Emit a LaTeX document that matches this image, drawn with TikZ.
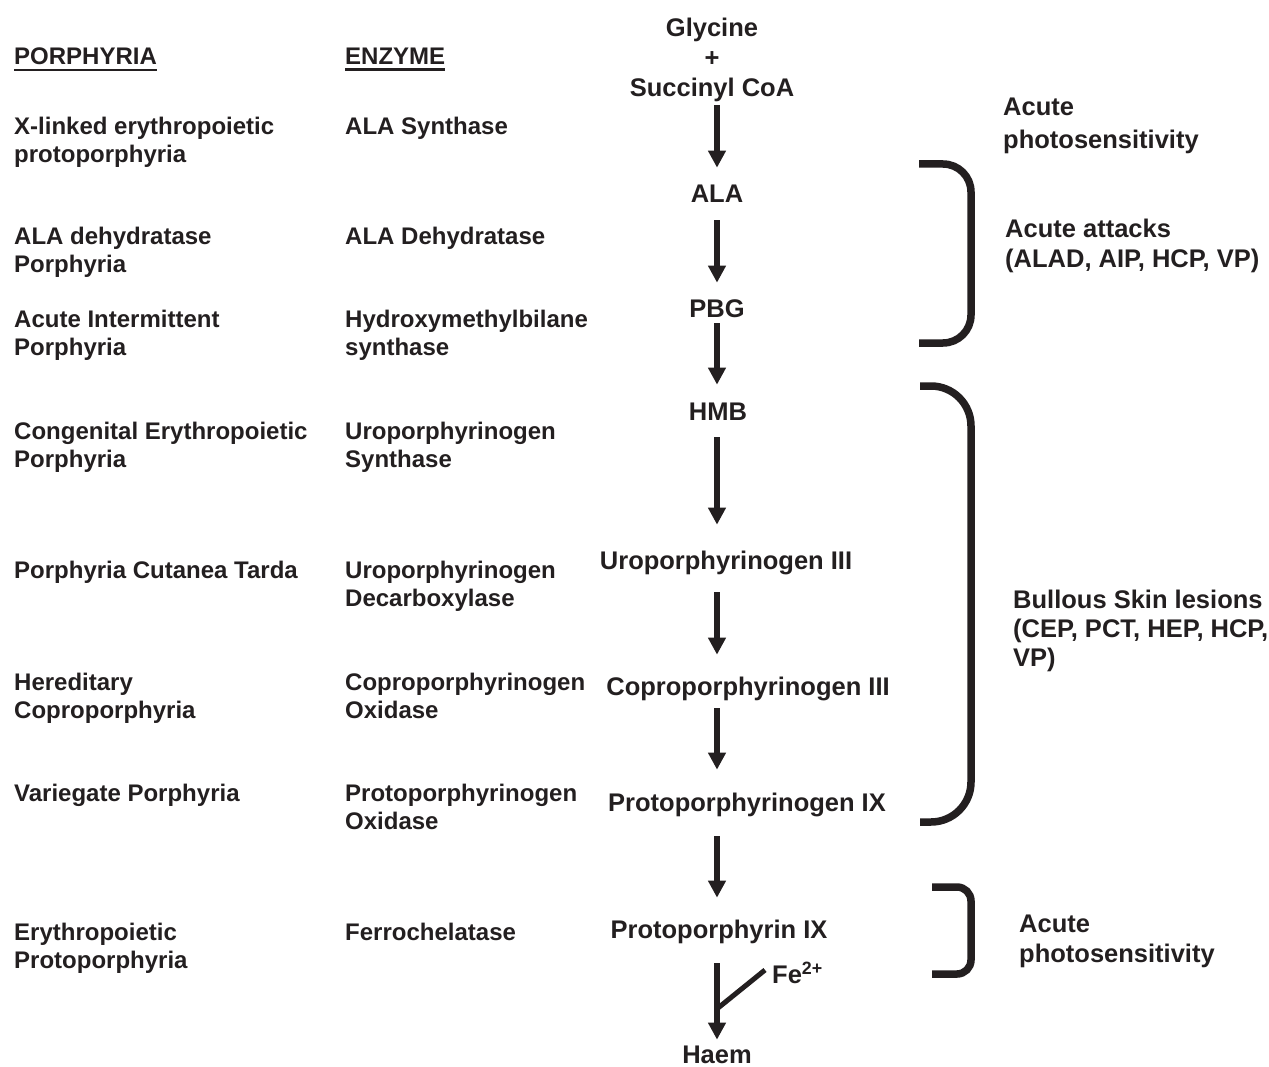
\documentclass[tikz,border=0pt]{standalone}
\usepackage{fontspec}
\setmainfont{Liberation Sans}
\usetikzlibrary{arrows.meta}
\definecolor{ink}{RGB}{35,31,32}
\newcommand\colfont{\fontsize{24}{28}\selectfont\bfseries}
\newcommand\pathfont{\fontsize{25.5}{30}\selectfont\bfseries}

\begin{document}
\begin{tikzpicture}[x=1pt,y=-1pt,
  every node/.style={inner sep=0pt,text=ink},
  coltext/.style={anchor=north west,align=left,font=\colfont},
  sidetext/.style={anchor=north west,align=left,font=\pathfont},
  metab/.style={font=\pathfont,text height=18.3pt,text depth=0pt},
  flow/.style={draw=ink,line width=5.5pt,-{Triangle[width=17pt,length=17pt]}},
  bracket/.style={draw=ink,line width=7.5pt},
  uline/.style={draw=ink,line width=2.7pt}]
\useasboundingbox (0,0) rectangle (1269,1067);

% column heads
\node[coltext] (hdis) at (14,48) {PORPHYRIA};
\node[coltext] (henz) at (345,48) {ENZYME};
\draw[uline] ([yshift=-5pt]hdis.base west) -- ([yshift=-5pt]hdis.base east);
\draw[uline] ([yshift=-5pt]henz.base west) -- ([yshift=-5pt]henz.base east);

% porphyrias
\node[coltext] (dxlp) at (14,117) {X-linked erythropoietic\\protoporphyria};
\node[coltext] (dalad) at (14,227) {ALA dehydratase\\Porphyria};
\node[coltext] (daip) at (14,310) {Acute Intermittent\\Porphyria};
\node[coltext] (dcep) at (14,422) {Congenital Erythropoietic\\Porphyria};
\node[coltext] (dpct) at (14,561) {Porphyria Cutanea Tarda};
\node[coltext] (dhcp) at (14,673) {Hereditary\\Coproporphyria};
\node[coltext] (dvp) at (14,784) {Variegate Porphyria};
\node[coltext] (depp) at (14,923) {Erythropoietic\\Protoporphyria};

% enzymes
\node[coltext] (ealas) at (345,117) {ALA Synthase};
\node[coltext] (ealad) at (345,227) {ALA Dehydratase};
\node[coltext] (ehmbs) at (345,310) {Hydroxymethylbilane\\synthase};
\node[coltext] (euros) at (345,422) {Uroporphyrinogen\\Synthase};
\node[coltext] (eurod) at (345,561) {Uroporphyrinogen\\Decarboxylase};
\node[coltext] (ecpox) at (345,673) {Coproporphyrinogen\\Oxidase};
\node[coltext] (eppox) at (345,784) {Protoporphyrinogen\\Oxidase};
\node[coltext] (efech) at (345,923) {Ferrochelatase};

% pathway
\coordinate (spine) at (717,0);
\node[anchor=north,align=center,font=\pathfont] (gly) at (712,18) {Glycine\\+\\Succinyl CoA};
\node[metab] (ala) at (717,193) {ALA};
\node[metab] (pbg) at (717,308) {PBG};
\node[metab] (hmb) at (718,411) {HMB};
\node[metab] (uro) at (726,560) {Uroporphyrinogen III};
\node[metab] (copro) at (748,686) {Coproporphyrinogen III};
\node[metab] (protogen) at (747,802) {Protoporphyrinogen IX};
\node[metab] (protoix) at (719,929) {Protoporphyrin IX};
\node[metab] (haem) at (717,1054) {Haem};
\node[metab,anchor=west] (fe) at (772,974) {Fe\textsuperscript{2+}};

\foreach \from/\to/\ga/\gb in {gly/ala/3/16, ala/pbg/18/16, pbg/hmb/6/17,
    hmb/uro/17/26, uro/copro/23/22, copro/protogen/13/23,
    protogen/protoix/25/22, protoix/haem/25/5}
  \draw[flow,shorten <=\ga pt,shorten >=\gb pt] (\from.south -| spine) -- (\to.north -| spine);

\coordinate (fejoin) at (718,1008);
\draw[draw=ink,line width=5pt] ([xshift=-7pt,yshift=4pt]fe.west) -- (fejoin);

% brackets
\draw[bracket,rounded corners=28pt] (919,164) -| (971,343) -- (919,343);
\draw[bracket,rounded corners=40pt] (920,386) -| (971,822) -- (920,822);
\draw[bracket,rounded corners=14pt] (932,887) -| (971,974) -- (932,974);

% symptoms
\node[sidetext,font=\fontsize{25.5}{33}\selectfont\bfseries] (sym1) at (1003,98) {Acute\\photosensitivity};
\node[sidetext] (sym2) at (1005,219) {Acute attacks\\(ALAD, AIP, HCP, VP)};
\node[sidetext,font=\fontsize{25.5}{29}\selectfont\bfseries] (sym3) at (1013,590) {Bullous Skin lesions\\(CEP, PCT, HEP, HCP,\\VP)};
\node[sidetext] (sym4) at (1019,915) {Acute\\photosensitivity};
\end{tikzpicture}
\end{document}
